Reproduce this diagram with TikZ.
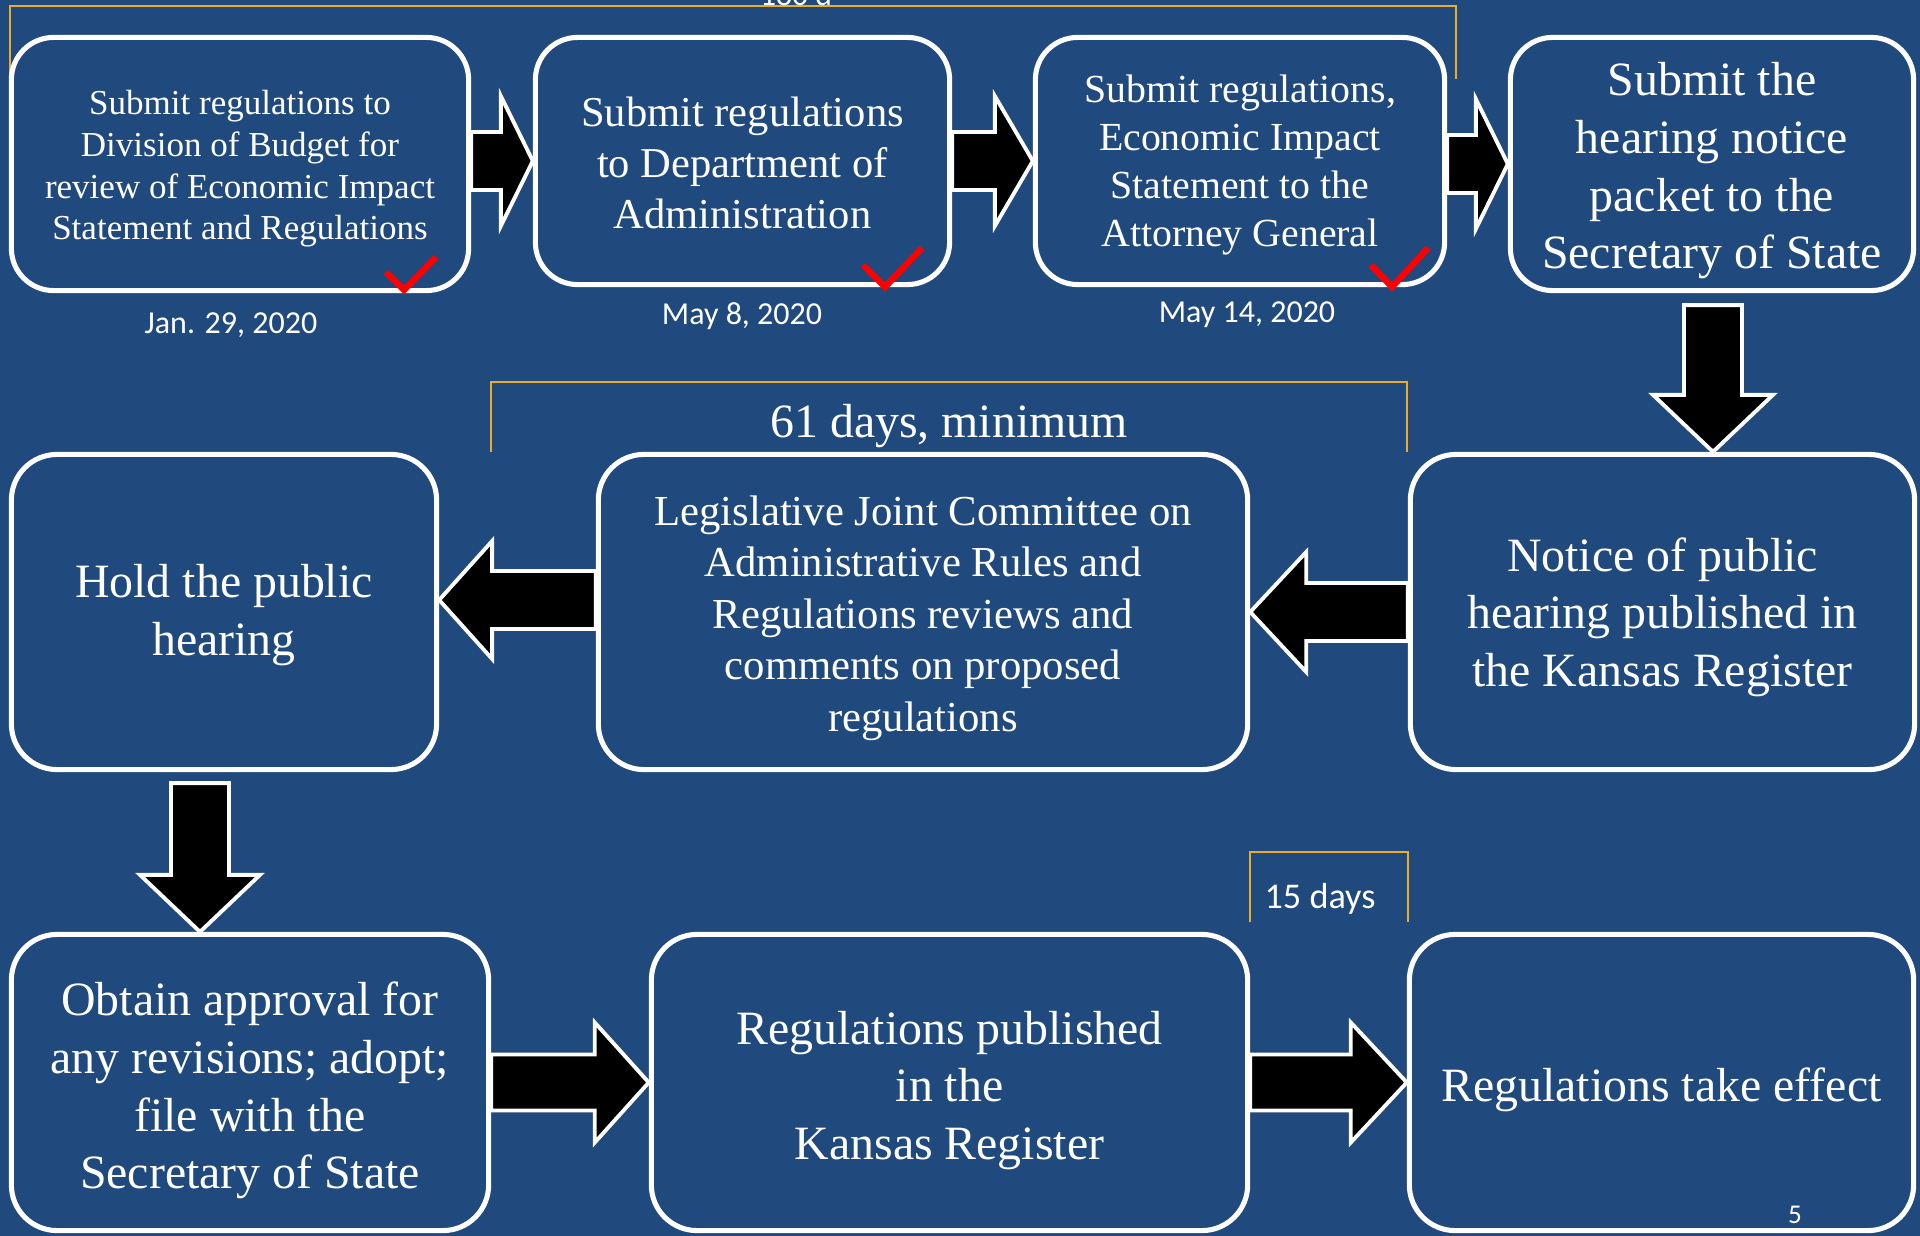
\documentclass[tikz,border=0pt]{standalone}
\usepackage{fontspec}
\setmainfont{Liberation Serif}
\newfontfamily\calib{Carlito}
\usetikzlibrary{calc}
\definecolor{bg}{RGB}{32,73,125}
\definecolor{gold}{RGB}{235,172,40}
\tikzset{
  box/.style={draw=white, line width=1.45pt, rounded corners=13pt, inner sep=0pt},
  rowone/.style={rounded corners=12pt},
  txt/.style={text=white, align=center, inner sep=0pt},
  blk/.style={fill=black, draw=white, line width=1.1pt, line join=miter},
  brk/.style={draw=gold, line width=0.6pt},
  chk/.style={draw=red, line width=1.8pt},
  lbl/.style={text=white, inner sep=0pt},
  serifbig/.style={font=\fontsize{13.6pt}{16.4pt}\selectfont},
  datefont/.style={font=\calib\fontsize{9.1pt}{11pt}\selectfont}
}
% horizontal block arrow: start, tip, head-base offset (signed x), shaft half, head half
\newcommand\harrow[5]{%
  \draw[blk] ($(#1)+(0,-#4)$) -- ($(#2)+(#3,-#4)$) -- ($(#2)+(#3,-#5)$) -- (#2)
    -- ($(#2)+(#3,#5)$) -- ($(#2)+(#3,#4)$) -- ($(#1)+(0,#4)$) -- cycle;}
% vertical block arrow: start, tip, head-base offset (signed y), shaft half, head half
\newcommand\varrow[5]{%
  \draw[blk] ($(#1)+(-#4,0)$) -- ($(#2)+(-#4,#3)$) -- ($(#2)+(-#5,#3)$) -- (#2)
    -- ($(#2)+(#5,#3)$) -- ($(#2)+(#4,#3)$) -- ($(#1)+(#4,0)$) -- cycle;}
\begin{document}
\begin{tikzpicture}[x=0.01cm,y=-0.01cm]
\clip (0,0) rectangle (1920,1236);
\fill[bg] (0,0) rectangle (1920,1236);
\useasboundingbox (0,0) rectangle (1920,1236);

% brackets
\draw[brk] (10,75) -- (10,6) -- (1456,6) -- (1456,79);
\node[lbl, anchor=base, font=\calib\fontsize{9pt}{11pt}\selectfont] (t180) at (796,5) {180 d};
\draw[brk] (491,452) -- (491,382) -- (1407,382) -- (1407,452);
\node[lbl, serifbig] (t61) at (949,426) {61 days, minimum};
\draw[brk] (1250,922) -- (1250,852) -- (1408,852) -- (1408,922);
\node[lbl, font=\calib\fontsize{10.3pt}{12pt}\selectfont] (t15) at (1320,899) {15 days};

% frames
\node[box, rowone, minimum width=4.57cm, minimum height=2.53cm] (b1) at (240,164) {};
\node[box, rowone, minimum width=4.14cm, minimum height=2.47cm] (b2) at (742.5,161) {};
\node[box, rowone, minimum width=4.09cm, minimum height=2.47cm] (b3) at (1240,161) {};
\node[box, rowone, minimum width=4.03cm, minimum height=2.53cm] (b4) at (1712,164) {};
\node[box, minimum width=4.25cm, minimum height=3.15cm] (b5) at (224,612) {};
\node[box, minimum width=6.49cm, minimum height=3.15cm] (b6) at (923,612) {};
\node[box, minimum width=5.04cm, minimum height=3.15cm] (b7) at (1662.5,612) {};
\node[box, minimum width=4.77cm, minimum height=2.96cm] (b8) at (250,1082.5) {};
\node[box, minimum width=5.96cm, minimum height=2.96cm] (b9) at (949.5,1082.5) {};
\node[box, minimum width=5.04cm, minimum height=2.96cm] (b10) at (1661.5,1082.5) {};

% texts
\node[txt, font=\fontsize{9.96pt}{11.84pt}\selectfont] (b1t) at ($(b1.center)+(0,5)$)
  {Submit regulations to\\Division of Budget for\\review of Economic Impact\\Statement and Regulations};
\node[txt, font=\fontsize{12.1pt}{14.45pt}\selectfont] (b2t) at ($(b2.center)+(0,2)$)
  {Submit regulations\\to Department of\\Administration};
\node[txt, font=\fontsize{11.32pt}{13.69pt}\selectfont] (b3t) at ($(b3.center)+(0,4)$)
  {Submit regulations,\\Economic Impact\\Statement to the\\Attorney General};
\node[txt, serifbig] (b4t) at ($(b4.center)+(0,7)$)
  {Submit the\\hearing notice\\packet to the\\Secretary of State};
\node[txt, serifbig] (b5t) at ($(b5.center)+(0,3)$)
  {Hold the public\\hearing};
\node[txt, font=\fontsize{12.15pt}{14.62pt}\selectfont] (b6t) at ($(b6.center)+(0,6)$)
  {Legislative Joint Committee on\\Administrative Rules and\\Regulations reviews and\\comments on proposed\\regulations};
\node[txt, serifbig] (b7t) at ($(b7.center)+(0,5)$)
  {Notice of public\\hearing published in\\the Kansas Register};
\node[txt, serifbig] (b8t) at ($(b8.center)+(0,8)$)
  {Obtain approval for\\any revisions; adopt;\\file with the\\Secretary of State};
\node[txt, serifbig] (b9t) at ($(b9.center)+(0,8)$)
  {Regulations published\\in the\\Kansas Register};
\node[txt, serifbig] (b10t) at ($(b10.center)+(0,7)$)
  {Regulations take effect};

% arrows
\harrow{b1.east |- b2.west}{b2.west}{-32}{29}{65}
\harrow{b2.east |- b3.west}{b3.west}{-38}{29}{65}
\harrow{b3.east |- b4.west}{b4.west}{-32}{29}{65}
\coordinate (s47) at ($(b4.south)+(1,12)$);
\varrow{s47}{s47 |- b7.north}{-57}{29}{60}
\harrow{b7.west |- b6.east}{b6.east}{56}{29}{60}
\coordinate (t65) at ($(b5.east)+(0,-12)$);
\harrow{b6.west |- t65}{t65}{53}{29}{59}
\coordinate (s58) at ($(b5.south)+(-24,11)$);
\varrow{s58}{s58 |- b8.north}{-57}{29}{60}
\harrow{b8.east |- b9.west}{b9.west}{-54}{28}{60}
\harrow{b9.east |- b10.west}{b10.west}{-56}{28}{60}

% check marks
\draw[chk] (386,272) -- (404,290) -- (436,257);
\draw[chk] (863,265) -- (885,287) -- (922,248);
\draw[chk] (1371,265) -- (1392,287) -- (1428,248);

% dates
\node[lbl, datefont] (d1) at (231,325) {Jan. 29, 2020};
\node[lbl, datefont] (d2) at (742,316) {May 8, 2020};
\node[lbl, datefont] (d3) at (1247,315) {May 14, 2020};
\node[lbl, font=\calib\fontsize{7.7pt}{9pt}\selectfont] (pg) at (1795,1215) {5};
\end{tikzpicture}
\end{document}
